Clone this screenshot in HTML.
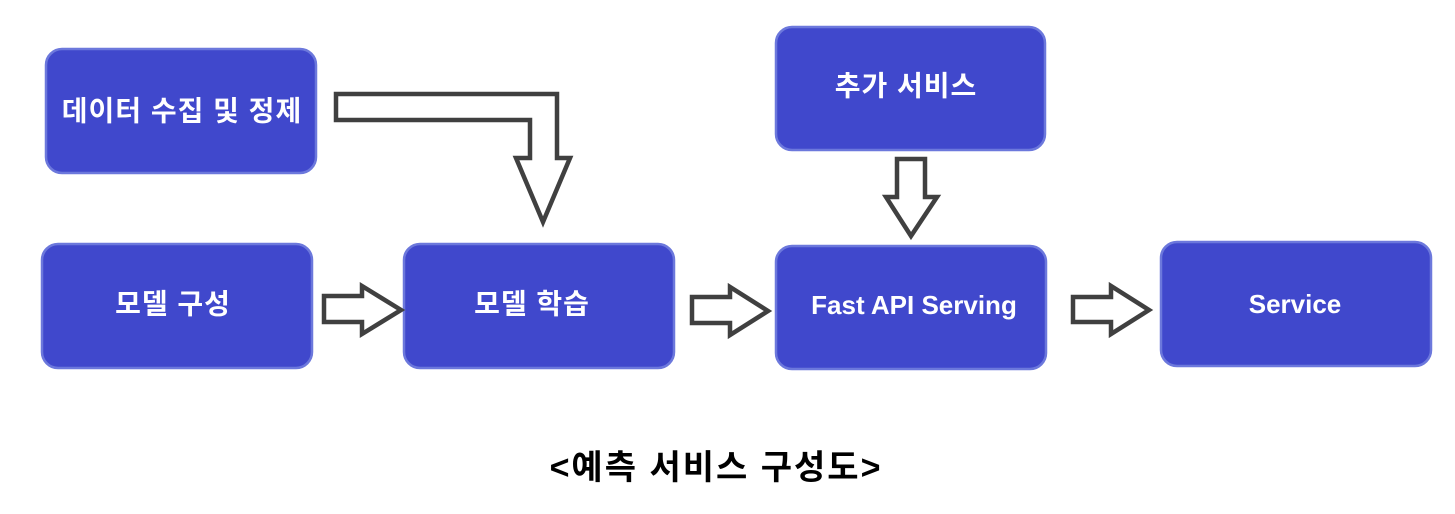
<!DOCTYPE html>
<html><head><meta charset="utf-8"><style>
html,body{margin:0;padding:0;background:#fff;}
svg{display:block;}
text{font-family:"Liberation Sans","Noto Sans CJK KR",sans-serif;font-weight:bold;}
</style></head><body>
<svg width="1455" height="514" viewBox="0 0 1455 514" xmlns="http://www.w3.org/2000/svg">
<g fill="#4048cc" stroke="#6c78dc" stroke-width="2.5">
<rect x="46" y="49" width="270" height="124" rx="16"/>
<rect x="42" y="244" width="270" height="124" rx="16"/>
<rect x="404" y="244" width="270" height="124" rx="16"/>
<rect x="776" y="27" width="269" height="123" rx="16"/>
<rect x="776" y="246" width="270" height="123" rx="16"/>
<rect x="1161" y="242" width="270" height="124" rx="16"/>
</g>
<g fill="#fff" font-size="28" letter-spacing="1" text-anchor="middle" dominant-baseline="central">
<text x="182" y="111">데이터 수집 및 정제</text>
<text x="173" y="304">모델 구성</text>
<text x="532" y="304">모델 학습</text>
<text x="906" y="86">추가 서비스</text>
</g>
<g fill="#fff" font-size="26" text-anchor="middle" dominant-baseline="central">
<text x="914" y="305">Fast API Serving</text>
<text x="1295" y="304">Service</text>
</g>
<g fill="#fff" stroke="#404040" stroke-width="4.5" stroke-linejoin="miter">
<path d="M336 94 H557 V158 H570 L543 222 L516 158 H530 V120 H336 Z"/>
<path d="M897 159 H925 V197 H937 L911 236 L886 197 H897 Z"/>
<path d="M324 296 H362 V286 L401 310 L362 334 V322 H324 Z"/>
<path d="M692 297 H730 V287 L768 311 L730 335 V323 H692 Z"/>
<path d="M1073 297 H1111 V286 L1149 310 L1111 334 V322 H1073 Z"/>
</g>
<text x="716" y="468" font-size="34" letter-spacing="2" text-anchor="middle" dominant-baseline="central" fill="#000">&lt;예측 서비스 구성도&gt;</text>
</svg>
</body></html>
